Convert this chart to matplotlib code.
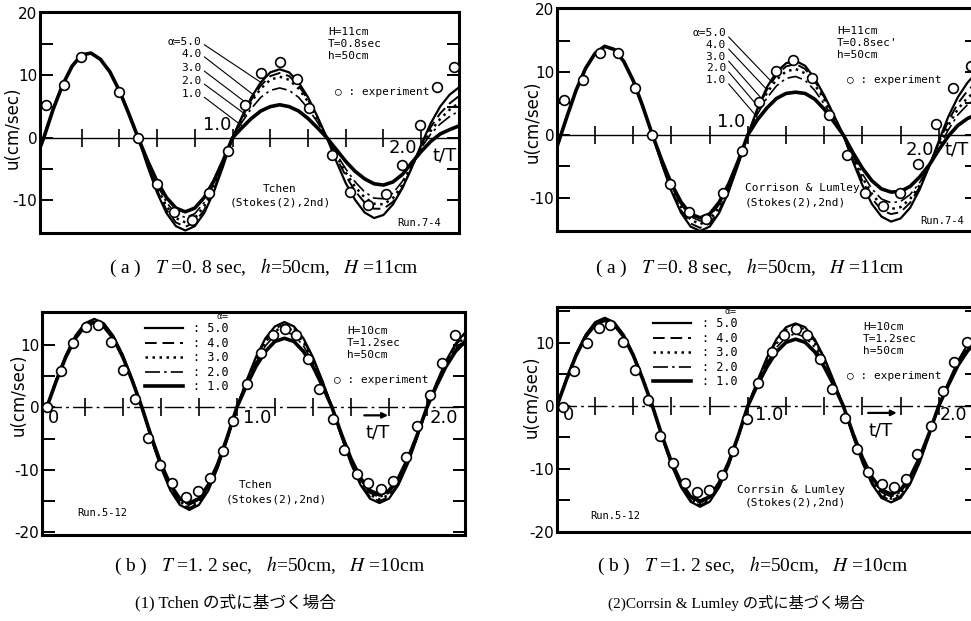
import matplotlib

matplotlib.use("Agg")
import matplotlib.pyplot as plt
import numpy as np

plt.rcParams["mathtext.fontset"] = "stix"

# sample grid of t/T for the theoretical curves (0.05 step)
T_GRID = np.round(np.arange(0.0, 2.2001, 0.05), 2)
T_TL = np.r_[-0.02, T_GRID]

ALPHAS = ["5.0", "4.0", "3.0", "2.0", "1.0"]
CROSS_TICKS = [0.2, 0.4, 0.6, 0.8, 1.0, 1.2, 1.4, 1.6, 1.8, 2.0]

# ---- (1)(a) Tchen, T=0.8sec ----
TL_A5 = [-1.6, 0.0, 4.6, 8.5, 11.5, 13.3, 13.6, 12.6, 10.6, 7.6, 3.9, 0.0,
         -4.6, -8.8, -12.1, -14.2, -14.9, -14.2, -12.1, -8.8, -4.6, 0.0,
         3.4, 6.5, 8.9, 10.5, 11.0, 10.5, 8.9, 6.5, 3.4, 0.0,
         -3.8, -7.3, -10.0, -12.0, -12.9, -12.4, -10.7, -8.1, -4.8, -1.1, 2.3, 5.0, 6.9, 8.1]
TL_A4 = [-1.6, 0.0, 4.6, 8.5, 11.5, 13.3, 13.6, 12.6, 10.6, 7.6, 3.9, 0.0,
         -4.4, -8.4, -11.6, -13.6, -14.3, -13.6, -11.6, -8.4, -4.4, 0.0,
         3.2, 6.1, 8.4, 9.9, 10.4, 9.9, 8.4, 6.1, 3.2, 0.0,
         -3.2, -6.1, -8.6, -10.4, -11.4, -11.4, -10.3, -8.0, -4.8, -1.2, 1.7, 3.9, 5.5, 6.7]
TL_A3 = [-1.6, 0.0, 4.6, 8.5, 11.5, 13.3, 13.6, 12.6, 10.6, 7.6, 3.9, 0.0,
         -4.2, -8.0, -11.0, -12.9, -13.6, -12.9, -11.0, -8.0, -4.2, 0.0,
         3.0, 5.8, 7.9, 9.3, 9.8, 9.3, 7.9, 5.8, 3.0, 0.0,
         -2.9, -5.6, -7.9, -9.6, -10.6, -10.7, -9.7, -7.6, -4.6, -1.4, 1.1, 3.0, 4.5, 5.6]
TL_A2 = [-1.6, 0.0, 4.6, 8.5, 11.5, 13.3, 13.6, 12.6, 10.6, 7.6, 3.9, 0.0,
         -4.0, -7.5, -10.4, -12.2, -12.8, -12.2, -10.4, -7.5, -4.0, 0.0,
         2.5, 4.7, 6.5, 7.6, 8.0, 7.6, 6.5, 4.7, 2.5, 0.0,
         -2.6, -5.0, -7.1, -8.7, -9.7, -9.8, -8.9, -7.0, -4.3, -1.6, 0.6, 2.2, 3.4, 4.3]
TL_A1 = [-1.6, 0.0, 4.6, 8.5, 11.5, 13.3, 13.6, 12.6, 10.6, 7.6, 3.9, 0.0,
         -3.7, -7.0, -9.6, -11.3, -11.9, -11.3, -9.6, -7.0, -3.7, 0.0,
         1.6, 3.1, 4.3, 5.0, 5.3, 5.0, 4.3, 3.1, 1.6, 0.0,
         -1.9, -3.8, -5.4, -6.6, -7.4, -7.6, -7.1, -5.9, -4.0, -2.2, -0.6, 0.6, 1.3, 1.9]
TL_EXP_T = [0.014, 0.108, 0.196, 0.397, 0.499, 0.601, 0.689, 0.787, 0.878, 0.977, 1.067, 1.152,
            1.254, 1.342, 1.404, 1.527, 1.622, 1.72, 1.813, 1.90, 1.993, 2.086, 2.175]
TL_EXP_U = [5.2, 8.5, 12.9, 7.3, 0.0, -7.5, -11.9, -13.2, -8.9, -2.1, 5.2, 10.4,
            12.1, 9.5, 4.8, -2.7, -8.7, -10.8, -9.1, -4.4, 2.0, 8.1, 11.3]
TL_LABEL_U = [15.4, 13.5, 11.2, 9.1, 7.0]
TL_LEAD_T = [1.15, 1.115, 1.09, 1.075, 1.055]
TL_LEAD_U = [8.9, 6.8, 5.2, 3.6, 1.8]

# ---- (2)(a) Corrsin & Lumley, T=0.8sec ----
TR_A5 = [-1.9, 2.7, 7.1, 10.6, 13.0, 14.1, 13.6, 11.7, 8.6, 4.5, 0.0,
         -4.7, -9.0, -12.4, -14.6, -15.3, -14.6, -12.4, -9.0, -4.7, 0.0,
         4.2, 7.6, 10.0, 11.4, 11.8, 11.0, 9.0, 6.3, 3.2, 0.0,
         -4.2, -8.0, -11.0, -13.0, -13.8, -13.3, -11.6, -8.7, -5.0, -1.0, 2.9, 6.0, 8.3, 10.0]
TR_A4 = [-1.9, 2.7, 7.1, 10.6, 13.0, 14.1, 13.6, 11.7, 8.6, 4.5, 0.0,
         -4.6, -8.7, -12.0, -14.1, -14.8, -14.1, -12.0, -8.7, -4.6, 0.0,
         4.0, 7.2, 9.5, 10.9, 11.3, 10.5, 8.6, 6.0, 3.0, 0.0,
         -3.9, -7.3, -10.1, -12.0, -12.6, -12.3, -10.8, -8.3, -5.0, -1.3, 2.2, 5.0, 7.0, 8.5]
TR_A3 = [-1.9, 2.7, 7.1, 10.6, 13.0, 14.1, 13.6, 11.7, 8.6, 4.5, 0.0,
         -4.4, -8.3, -11.5, -13.5, -14.2, -13.5, -11.5, -8.3, -4.4, 0.0,
         3.7, 6.7, 8.8, 10.1, 10.5, 9.8, 8.0, 5.6, 2.8, 0.0,
         -3.6, -6.8, -9.4, -11.2, -11.8, -11.5, -10.2, -8.0, -5.0, -1.7, 1.5, 4.1, 5.9, 7.1]
TR_A2 = [-1.9, 2.7, 7.1, 10.6, 13.0, 14.1, 13.6, 11.7, 8.6, 4.5, 0.0,
         -4.2, -8.1, -11.1, -13.0, -13.7, -13.0, -11.1, -8.1, -4.2, 0.0,
         3.3, 5.9, 7.8, 9.0, 9.3, 8.7, 7.1, 4.9, 2.5, 0.0,
         -3.3, -6.2, -8.6, -10.2, -10.8, -10.6, -9.5, -7.6, -5.0, -2.1, 0.8, 3.2, 4.8, 5.9]
TR_A1 = [-1.9, 2.7, 7.1, 10.6, 13.0, 14.1, 13.6, 11.7, 8.6, 4.5, 0.0,
         -4.1, -7.8, -10.7, -12.6, -13.2, -12.6, -10.7, -7.8, -4.1, 0.0,
         2.4, 4.3, 5.8, 6.6, 6.8, 6.6, 5.7, 4.1, 2.1, 0.0,
         -2.8, -5.3, -7.3, -8.6, -9.1, -9.0, -8.2, -6.7, -4.8, -2.4, -0.2, 1.5, 2.6, 3.3]
TR_EXP_T = [0.035, 0.134, 0.227, 0.321, 0.41, 0.497, 0.593, 0.693, 0.78, 0.871, 0.967, 1.059,
            1.147, 1.237, 1.335, 1.426, 1.518, 1.613, 1.708, 1.797, 1.892, 1.988, 2.075, 2.17]
TR_EXP_U = [5.5, 8.7, 13.0, 13.0, 7.5, 0.0, -7.8, -12.2, -13.4, -9.3, -2.5, 5.3,
            10.2, 12.0, 9.1, 3.2, -3.2, -9.2, -11.3, -9.3, -4.7, 1.8, 7.5, 10.9]
TR_LABEL_U = [16.2, 14.3, 12.4, 10.7, 8.8]
TR_LEAD_T = [1.12, 1.10, 1.08, 1.065, 1.055]
TR_LEAD_U = [8.6, 7.2, 5.5, 4.1, 2.6]

# ---- (1)(b) Tchen, T=1.2sec ----
BL_A5 = [0.0, 4.4, 8.3, 11.4, 13.4, 14.1, 13.4, 11.4, 8.3, 4.4, 0.0,
         -5.1, -9.6, -13.3, -15.6, -16.4, -15.6, -13.3, -9.6, -5.1, 0.0,
         4.2, 8.0, 11.0, 12.9, 13.6, 12.9, 11.0, 8.0, 4.2, 0.0,
         -4.7, -9.0, -12.4, -14.6, -15.3, -14.6, -12.4, -9.0, -4.7, 0.0, 3.9, 7.4, 10.1, 11.9]
BL_A4 = [0.0, 4.3, 8.2, 11.3, 13.3, 14.0, 13.3, 11.3, 8.2, 4.3, 0.0,
         -5.0, -9.5, -13.0, -15.3, -16.1, -15.3, -13.0, -9.5, -5.0, 0.0,
         4.1, 7.8, 10.7, 12.6, 13.2, 12.6, 10.7, 7.8, 4.1, 0.0,
         -4.6, -8.8, -12.1, -14.3, -15.0, -14.3, -12.1, -8.8, -4.6, 0.0, 3.8, 7.2, 9.9, 11.6]
BL_A3 = [0.0, 4.3, 8.2, 11.2, 13.2, 13.9, 13.2, 11.2, 8.2, 4.3, 0.0,
         -4.9, -9.3, -12.9, -15.1, -15.9, -15.1, -12.9, -9.3, -4.9, 0.0,
         4.0, 7.5, 10.4, 12.2, 12.8, 12.2, 10.4, 7.5, 4.0, 0.0,
         -4.5, -8.6, -11.9, -14.0, -14.7, -14.0, -11.9, -8.6, -4.5, 0.0, 3.7, 7.0, 9.6, 11.3]
BL_A2 = [0.0, 4.3, 8.1, 11.2, 13.1, 13.8, 13.1, 11.2, 8.1, 4.3, 0.0,
         -4.8, -9.2, -12.6, -14.8, -15.6, -14.8, -12.6, -9.2, -4.8, 0.0,
         3.7, 7.1, 9.8, 11.5, 12.1, 11.5, 9.8, 7.1, 3.7, 0.0,
         -4.4, -8.5, -11.6, -13.7, -14.4, -13.7, -11.6, -8.5, -4.4, 0.0, 3.6, 6.8, 9.3, 10.9]
BL_A1 = [0.0, 4.2, 8.0, 11.0, 12.9, 13.6, 12.9, 11.0, 8.0, 4.2, 0.0,
         -4.7, -9.0, -12.4, -14.6, -15.3, -14.6, -12.4, -9.0, -4.7, 0.0,
         3.4, 6.5, 8.9, 10.5, 11.0, 10.5, 8.9, 6.5, 3.4, 0.0,
         -4.3, -8.2, -11.3, -13.3, -14.0, -13.3, -11.3, -8.2, -4.3, 0.0, 3.4, 6.5, 8.9, 10.5]
BL_EXP_T = [0.002, 0.074, 0.139, 0.204, 0.267, 0.337, 0.402, 0.463, 0.53, 0.595, 0.656, 0.73,
            0.793, 0.858, 0.925, 0.98, 1.051, 1.126, 1.188, 1.253, 1.311, 1.372, 1.433, 1.504,
            1.563, 1.63, 1.691, 1.758, 1.819, 1.889, 1.949, 2.016, 2.077, 2.147]
BL_EXP_U = [0.1, 5.8, 10.2, 12.8, 13.2, 10.4, 6.0, 1.3, -4.9, -9.3, -12.1, -14.4,
            -13.4, -11.3, -7.0, -2.2, 3.7, 8.7, 11.6, 12.5, 11.6, 7.7, 2.9, -1.9,
            -6.8, -10.7, -12.1, -13.0, -11.8, -7.9, -3.0, 2.0, 7.0, 11.6]

# ---- (2)(b) Corrsin & Lumley, T=1.2sec ----
BR_A5 = [0.0, 4.3, 8.2, 11.3, 13.3, 14.0, 13.3, 11.3, 8.2, 4.3, 0.0,
         -4.9, -9.4, -12.9, -15.2, -16.0, -15.2, -12.9, -9.4, -4.9, 0.0,
         4.0, 7.7, 10.6, 12.5, 13.1, 12.5, 10.6, 7.7, 4.0, 0.0,
         -4.7, -9.0, -12.4, -14.6, -15.3, -14.6, -12.4, -9.0, -4.7, 0.0, 3.7, 7.1, 9.7, 11.4]
BR_A4 = [0.0, 4.3, 8.2, 11.2, 13.2, 13.9, 13.2, 11.2, 8.2, 4.3, 0.0,
         -4.9, -9.3, -12.8, -15.0, -15.8, -15.0, -12.8, -9.3, -4.9, 0.0,
         3.9, 7.5, 10.3, 12.1, 12.7, 12.1, 10.3, 7.5, 3.9, 0.0,
         -4.6, -8.8, -12.1, -14.3, -15.0, -14.3, -12.1, -8.8, -4.6, 0.0, 3.6, 6.9, 9.5, 11.1]
BR_A3 = [0.0, 4.3, 8.1, 11.2, 13.1, 13.8, 13.1, 11.2, 8.1, 4.3, 0.0,
         -4.8, -9.2, -12.6, -14.8, -15.6, -14.8, -12.6, -9.2, -4.8, 0.0,
         3.8, 7.2, 9.9, 11.6, 12.2, 11.6, 9.9, 7.2, 3.8, 0.0,
         -4.5, -8.6, -11.9, -14.0, -14.7, -14.0, -11.9, -8.6, -4.5, 0.0, 3.5, 6.7, 9.2, 10.8]
BR_A2 = [0.0, 4.2, 8.1, 11.1, 13.0, 13.7, 13.0, 11.1, 8.1, 4.2, 0.0,
         -4.8, -9.1, -12.5, -14.6, -15.4, -14.6, -12.5, -9.1, -4.8, 0.0,
         3.6, 6.8, 9.3, 10.9, 11.5, 10.9, 9.3, 6.8, 3.6, 0.0,
         -4.4, -8.5, -11.6, -13.7, -14.4, -13.7, -11.6, -8.5, -4.4, 0.0, 3.4, 6.5, 9.0, 10.6]
BR_A1 = [0.0, 4.2, 8.0, 11.0, 12.9, 13.6, 12.9, 11.0, 8.0, 4.2, 0.0,
         -4.7, -8.9, -12.2, -14.4, -15.1, -14.4, -12.2, -8.9, -4.7, 0.0,
         3.3, 6.2, 8.6, 10.1, 10.6, 10.1, 8.6, 6.2, 3.3, 0.0,
         -4.3, -8.2, -11.3, -13.3, -14.0, -13.3, -11.3, -8.2, -4.3, 0.0, 3.3, 6.4, 8.7, 10.3]
BR_EXP_T = [0.03, 0.091, 0.157, 0.222, 0.279, 0.344, 0.41, 0.475, 0.541, 0.609, 0.672, 0.733,
            0.797, 0.862, 0.923, 0.998, 1.051, 1.129, 1.19, 1.251, 1.312, 1.377, 1.443, 1.508,
            1.574, 1.632, 1.705, 1.763, 1.827, 1.888, 1.958, 2.024, 2.08, 2.147]
BR_EXP_U = [-0.2, 5.6, 10.0, 12.4, 12.8, 10.1, 5.7, 0.9, -4.7, -9.1, -12.2, -13.7,
            -13.3, -11.0, -7.1, -2.1, 3.7, 8.6, 11.3, 12.2, 11.2, 7.4, 2.7, -1.9,
            -6.8, -10.5, -12.4, -12.8, -11.6, -7.7, -3.1, 2.3, 6.9, 10.1]

STYLES = {
    "5.0": dict(ls="-", lw=1.6),
    "4.0": dict(ls=(0, (6, 3)), lw=1.4),
    "3.0": dict(ls=(0, (1, 1.8)), lw=1.8),
    "2.0": dict(ls=(0, (9, 2.5, 1.5, 2.5)), lw=1.2),
    "1.0": dict(ls="-", lw=2.6),
}
MONO = "DejaVu Sans Mono"


def draw_panel(ax, t, curves, exp_t, exp_u, xlim, ylim, yticks, ylabels, axis_ls):
    ax.set_xlim(*xlim)
    ax.set_ylim(*ylim)
    ax.axhline(0, color="black", lw=1.0, ls=axis_ls, zorder=1)
    ax.plot(CROSS_TICKS, [0] * len(CROSS_TICKS), ls="none", marker="|",
            ms=13, mew=1.2, color="black", zorder=1)
    for label, values in zip(ALPHAS, curves):
        ax.plot(t, values, color="black", label=": " + label, zorder=3, **STYLES[label])
    ax.plot(exp_t, exp_u, ls="none", marker="o", ms=7, mfc="white", mec="black",
            mew=1.2, zorder=5, clip_on=False)
    for sp in ax.spines.values():
        sp.set_linewidth(2.2)
    ax.set_xticks([])
    ax.set_yticks(yticks)
    ax.set_yticklabels(ylabels)
    ax.tick_params(axis="y", direction="in", length=9, width=1.4, right=True,
                   labelsize=11, pad=2)
    ax.set_ylabel("u(cm/sec)", fontsize=12)


def wave_info(ax, params, x, y, exp_x, exp_y):
    ax.text(x, y, params, transform=ax.transAxes, ha="left", va="top",
            family=MONO, fontsize=8, linespacing=1.25)
    ax.text(exp_x, exp_y, "○ : experiment", transform=ax.transAxes, ha="left",
            va="center", family=MONO, fontsize=8)


def alpha_leaders(ax, label_t, label_u, lead_t, lead_u):
    names = ["α=5.0", "4.0", "3.0", "2.0", "1.0"]
    for name, lu, tt, tu in zip(names, label_u, lead_t, lead_u):
        ax.annotate(name, xy=(tt, tu), xytext=(label_t, lu), ha="right", va="center",
                    family=MONO, fontsize=8,
                    arrowprops=dict(arrowstyle="-", lw=0.8, color="black",
                                    relpos=(1.0, 0.4), shrinkA=0, shrinkB=0))


fig = plt.figure(figsize=(9.71, 6.21), dpi=100)

top_ticks = [-10, -5, 0, 5, 10, 15, 20]
top_labels = ["-10", "", "0", "", "10", "", "20"]
bot_ticks = [-20, -15, -10, -5, 0, 5, 10, 15]
bot_labels = ["-20", "", "-10", "", "0", "", "10", ""]

# (1)(a)
ax1 = fig.add_axes([0.0412, 0.6248, 0.4315, 0.3559])
draw_panel(ax1, T_TL, [TL_A5, TL_A4, TL_A3, TL_A2, TL_A1], TL_EXP_T, TL_EXP_U,
           (-0.02, 2.2), (-15.3, 20.2), top_ticks, top_labels, "-")
ax1.yaxis.set_label_coords(-0.045, 0.475)
alpha_leaders(ax1, 0.836, TL_LABEL_U, TL_LEAD_T, TL_LEAD_U)
wave_info(ax1, "H=11cm\nT=0.8sec\nh=50cm", 0.687, 0.93, 0.705, 0.638)
ax1.text(0.573, 0.199, "Tchen", transform=ax1.transAxes, ha="center", va="center",
         family=MONO, fontsize=8)
ax1.text(0.573, 0.136, "(Stokes(2),2nd)", transform=ax1.transAxes, ha="center",
         va="center", family=MONO, fontsize=8)
ax1.text(0.905, 0.045, "Run.7-4", transform=ax1.transAxes, ha="center", va="center",
         family=MONO, fontsize=7.5)
ax1.text(0.995, 2.1, "1.0", ha="right", va="center", fontsize=13)
ax1.text(1.98, -1.6, "2.0", ha="right", va="center", fontsize=13)
ax1.text(2.06, -2.9, "t/T", ha="left", va="center", fontsize=13)

# (2)(a)
ax2 = fig.add_axes([0.5736, 0.628, 0.4325, 0.3591])
draw_panel(ax2, T_GRID, [TR_A5, TR_A4, TR_A3, TR_A2, TR_A1], TR_EXP_T, TR_EXP_U,
           (0.0, 2.2), (-15.3, 20.2), top_ticks, top_labels, "-")
ax2.yaxis.set_label_coords(-0.036, 0.49)
alpha_leaders(ax2, 0.885, TR_LABEL_U, TR_LEAD_T, TR_LEAD_U)
wave_info(ax2, "H=11cm\nT=0.8sec'\nh=50cm", 0.667, 0.918, 0.69, 0.677)
ax2.text(0.448, 0.193, "Corrison & Lumley", transform=ax2.transAxes, ha="left",
         va="center", family=MONO, fontsize=8)
ax2.text(0.448, 0.13, "(Stokes(2),2nd)", transform=ax2.transAxes, ha="left",
         va="center", family=MONO, fontsize=8)
ax2.text(0.864, 0.045, "Run.7-4", transform=ax2.transAxes, ha="left", va="center",
         family=MONO, fontsize=7.5)
ax2.text(0.985, 2.1, "1.0", ha="right", va="center", fontsize=13)
ax2.text(1.975, -2.4, "2.0", ha="right", va="center", fontsize=13)
ax2.text(2.03, -2.4, "t/T", ha="left", va="center", fontsize=13)

# (1)(b)
ax3 = fig.add_axes([0.0433, 0.1385, 0.4356, 0.3591])
draw_panel(ax3, T_GRID, [BL_A5, BL_A4, BL_A3, BL_A2, BL_A1], BL_EXP_T, BL_EXP_U,
           (-0.025, 2.2), (-20.4, 15.2), bot_ticks, bot_labels, (0, (14, 3, 2, 3)))
ax3.yaxis.set_label_coords(-0.035, 0.63)
wave_info(ax3, "H=10cm\nT=1.2sec\nh=50cm", 0.721, 0.935, 0.69, 0.695)
ax3.text(0.504, 0.224, "Tchen", transform=ax3.transAxes, ha="center", va="center",
         family=MONO, fontsize=8)
ax3.text(0.553, 0.157, "(Stokes(2),2nd)", transform=ax3.transAxes, ha="center",
         va="center", family=MONO, fontsize=8)
ax3.text(0.083, 0.099, "Run.5-12", transform=ax3.transAxes, ha="left", va="center",
         family=MONO, fontsize=7.5)
ax3.text(0.005, -1.7, "0", ha="left", va="center", fontsize=13)
ax3.text(1.03, -1.8, "1.0", ha="left", va="center", fontsize=13)
ax3.text(2.016, -1.8, "2.0", ha="left", va="center", fontsize=13)
ax3.text(1.674, -4.1, "t/T", ha="left", va="center", fontsize=13)
ax3.annotate("", xy=(1.795, -1.3), xytext=(1.67, -1.3),
             arrowprops=dict(arrowstyle="-|>", lw=1.6, color="black", mutation_scale=8,
                             shrinkA=0, shrinkB=0))
leg3 = ax3.legend(loc="upper left", bbox_to_anchor=(0.243, 1.0), frameon=False,
                  title="α=", alignment="right", handlelength=3.2, handletextpad=0.9,
                  labelspacing=0.12, borderpad=0, borderaxespad=0,
                  prop=dict(family=MONO, size=8.5))
leg3.get_title().set_fontsize(6)

# (2)(b)
ax4 = fig.add_axes([0.5736, 0.1433, 0.4325, 0.3623])
draw_panel(ax4, T_GRID, [BR_A5, BR_A4, BR_A3, BR_A2, BR_A1], BR_EXP_T, BR_EXP_U,
           (0.0, 2.2), (-20.0, 15.7), bot_ticks, bot_labels, (0, (14, 3, 2, 3)))
ax4.yaxis.set_label_coords(-0.04, 0.6)
wave_info(ax4, "H=10cm\nT=1.2sec\nh=50cm", 0.729, 0.932, 0.69, 0.693)
ax4.text(0.429, 0.187, "Corrsin & Lumley", transform=ax4.transAxes, ha="left",
         va="center", family=MONO, fontsize=8)
ax4.text(0.448, 0.129, "(Stokes(2),2nd)", transform=ax4.transAxes, ha="left",
         va="center", family=MONO, fontsize=8)
ax4.text(0.079, 0.071, "Run.5-12", transform=ax4.transAxes, ha="left", va="center",
         family=MONO, fontsize=7.5)
ax4.text(0.03, -1.5, "0", ha="left", va="center", fontsize=13)
ax4.text(1.04, -1.5, "1.0", ha="left", va="center", fontsize=13)
ax4.text(2.005, -1.5, "2.0", ha="left", va="center", fontsize=12.5)
ax4.text(1.63, -3.9, "t/T", ha="left", va="center", fontsize=13)
ax4.annotate("", xy=(1.78, -1.1), xytext=(1.63, -1.1),
             arrowprops=dict(arrowstyle="-|>", lw=1.6, color="black", mutation_scale=8,
                             shrinkA=0, shrinkB=0))
leg4 = ax4.legend(loc="upper left", bbox_to_anchor=(0.229, 1.0), frameon=False,
                  title="α=", alignment="right", handlelength=3.2, handletextpad=0.9,
                  labelspacing=0.12, borderpad=0, borderaxespad=0,
                  prop=dict(family=MONO, size=8.5))
leg4.get_title().set_fontsize(6)

# captions
SERIF = "Liberation Serif"
CAP_A = r"( a )   $T$ =0. 8 sec,   $h$=50cm,   $H$ =11cm"
CAP_B = r"( b )   $T$ =1. 2 sec,   $h$=50cm,   $H$ =10cm"
fig.text(0.272, 0.568, CAP_A, ha="center", va="center", fontsize=14, family=SERIF)
fig.text(0.772, 0.568, CAP_A, ha="center", va="center", fontsize=14, family=SERIF)
fig.text(0.278, 0.089, CAP_B, ha="center", va="center", fontsize=14, family=SERIF)
fig.text(0.775, 0.089, CAP_B, ha="center", va="center", fontsize=14, family=SERIF)
fig.text(0.242, 0.029, "(1) Tchen の式に基づく場合", ha="center", va="center",
         fontsize=12, family=[SERIF, "Noto Sans CJK JP"])
fig.text(0.758, 0.029, "(2)Corrsin & Lumley の式に基づく場合", ha="center", va="center",
         fontsize=11, family=[SERIF, "Noto Sans CJK JP"])

fig.savefig("out.png", dpi=100)
